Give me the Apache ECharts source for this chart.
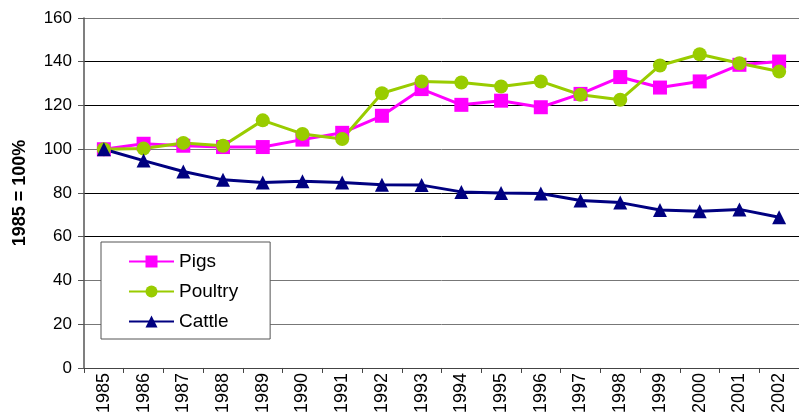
<!DOCTYPE html>
<html>
<head>
<meta charset="utf-8">
<script src="https://cdn.jsdelivr.net/npm/echarts@6/dist/echarts.min.js"></script>
<style>
  html, body { margin: 0; padding: 0; background: #fff; }
  #chart { width: 799px; height: 416px; }
</style>
</head>
<body>
<div id="chart"></div>
<script>
// Livestock numbers indexed to 1985 = 100%
const years = ['1985', '1986', '1987', '1988', '1989', '1990', '1991', '1992', '1993',
               '1994', '1995', '1996', '1997', '1998', '1999', '2000', '2001', '2002'];
const pigs    = [100, 102.5, 101.6, 101, 101, 104.4, 107.5, 115.3, 127.5,
                 120.3, 122.2, 119.2, 125.3, 133, 128.2, 131, 138.6, 140.1];
const poultry = [100, 100.3, 102.9, 101.6, 113.2, 107, 104.7, 125.6, 131,
                 130.5, 128.7, 131, 124.9, 122.6, 138.3, 143.4, 139.3, 135.5];
const cattle  = [100, 94.8, 89.8, 86, 84.8, 85.4, 84.8, 83.8, 83.6,
                 80.5, 80, 79.8, 76.6, 75.6, 72.2, 71.6, 72.5, 68.9];
const yTicks = { min: 0, max: 160, step: 20 };
const axisTitle = '1985 = 100%';

const font = '"Liberation Sans", Arial, Helvetica, sans-serif';

function lineSeries(name, data, color, symbol, size) {
  return {
    name: name,
    type: 'line',
    data: data,
    symbol: symbol,
    symbolSize: size,
    lineStyle: { color: color, width: 3 },
    itemStyle: { color: color },
    emphasis: { disabled: true },
    animation: false
  };
}

const chart = echarts.init(document.getElementById('chart'), null, { renderer: 'canvas' });
chart.setOption({
  backgroundColor: '#fff',
  animation: false,
  textStyle: { fontFamily: font },
  grid: { left: 84, top: 18, width: 722, height: 351, containLabel: false },
  legend: {
    orient: 'vertical',
    left: 101,
    top: 242,
    padding: [10, 32, 8, 27],
    itemWidth: 45,
    itemHeight: 15,
    itemGap: 11,
    backgroundColor: '#fff',
    borderColor: '#555',
    borderWidth: 1,
    textStyle: { fontSize: 19, color: '#000', fontFamily: font, padding: [0, 0, 0, 0] },
    data: ['Pigs', 'Poultry', 'Cattle']
  },
  xAxis: {
    type: 'category',
    data: years,
    boundaryGap: true,
    axisLine: { lineStyle: { color: '#444', width: 1 } },
    axisTick: { show: true, inside: false, length: 5, alignWithLabel: false, lineStyle: { color: '#444' } },
    axisLabel: { rotate: 90, fontSize: 18, color: '#000', margin: 5, interval: 0, fontFamily: font },
    splitLine: { show: false }
  },
  yAxis: {
    type: 'value',
    min: yTicks.min,
    max: yTicks.max,
    interval: yTicks.step,
    name: axisTitle,
    nameLocation: 'middle',
    nameRotate: 90,
    nameGap: 55,
    nameTextStyle: { fontSize: 18, fontWeight: 'bold', color: '#000', fontFamily: font },
    axisLine: { show: true, lineStyle: { color: '#555', width: 1.5 } },
    axisTick: { show: true, inside: false, length: 6, lineStyle: { color: '#555' } },
    axisLabel: { fontSize: 17, color: '#000', margin: 12, fontFamily: font },
    splitLine: {
      show: true,
      lineStyle: { color: ['#444', '#777', '#777', '#000', '#000', '#777', '#000', '#000', '#777'], width: 1 }
    }
  },
  series: [
    lineSeries('Pigs', pigs, '#FF00FF', 'rect', 14),
    lineSeries('Poultry', poultry, '#99CC00', 'circle', 14),
    lineSeries('Cattle', cattle, '#000080', 'triangle', 14)
  ]
});
</script>
</body>
</html>
